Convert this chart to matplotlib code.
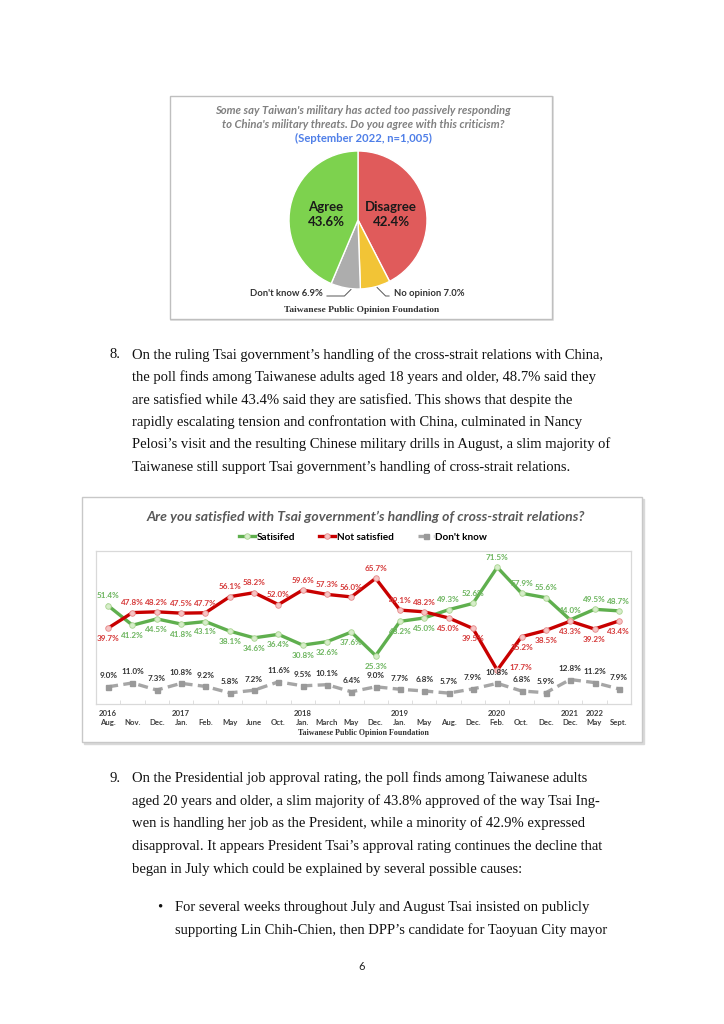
import matplotlib
matplotlib.use("Agg")
import matplotlib.pyplot as plt
from matplotlib.patches import Rectangle
import numpy as np

W, H = 724, 1024
def fx(x): return x / W
def fy(y): return 1 - y / H

# ---------------- data ----------------
pie_labels = ["Disagree", "No opinion", "Don't know", "Agree"]
pie_values = [42.4, 7.0, 6.9, 43.6]

months = ["Aug.", "Nov.", "Dec.", "Jan.", "Feb.", "May", "June", "Oct.", "Jan.", "March", "May",
          "Dec.", "Jan.", "May", "Aug.", "Dec.", "Feb.", "Oct.", "Dec.", "Dec.", "May", "Sept."]
years = ["2016", "", "", "2017", "", "", "", "", "2018", "", "", "", "2019", "", "", "",
         "2020", "", "", "2021", "2022", ""]
satisfied = [51.4, 41.2, 44.5, 41.8, 43.1, 38.1, 34.6, 36.4, 30.8, 32.6, 37.6, 25.3,
             43.2, 45.0, 49.3, 52.6, 71.5, 57.9, 55.6, 44.0, 49.5, 48.7]
not_satisfied = [39.7, 47.8, 48.2, 47.5, 47.7, 56.1, 58.2, 52.0, 59.6, 57.3, 56.0, 65.7,
                 49.1, 48.2, 45.0, 39.5, 17.7, 35.2, 38.5, 43.3, 39.2, 43.4]
dont_know = [9.0, 11.0, 7.3, 10.8, 9.2, 5.8, 7.2, 11.6, 9.5, 10.1, 6.4, 9.0,
             7.7, 6.8, 5.7, 7.9, 10.8, 6.8, 5.9, 12.8, 11.2, 7.9]

# label placement styles (a=above, b=below, r=right)
sat_pos = ["a", "b", "b", "b", "b", "b", "b", "b", "b", "b", "b", "b",
           "b", "b", "a", "a", "a", "a", "a", "a", "a", "a"]
not_pos = ["b", "a", "a", "a", "a", "a", "a", "a", "a", "a", "a", "a",
           "a", "a", "b", "b", "r", "b", "b", "b", "b", "b"]

SANS = ["Lato", "DejaVu Sans"]
SERIF = ["Liberation Serif", "DejaVu Serif"]

fig = plt.figure(figsize=(W / 100, H / 100), dpi=100)
fig.patch.set_facecolor("white")

# ---------------- pie box ----------------
fig.add_artist(Rectangle((fx(171), fy(320)), (553 - 171) / W, (320 - 97) / H,
                         transform=fig.transFigure, facecolor="none", edgecolor="#DDDDDD",
                         lw=1.2, zorder=-10))
fig.add_artist(Rectangle((fx(170), fy(319)), (552 - 170) / W, (319 - 96) / H,
                         transform=fig.transFigure, facecolor="white", edgecolor="#BFBFBF",
                         lw=1, zorder=-9))

ttl_col = "#808080"
fig.text(fx(363), fy(110), "Some say Taiwan's military has acted too passively responding",
         ha="center", va="center", fontsize=8.1, fontweight="bold", style="italic",
         color=ttl_col, family=SANS)
fig.text(fx(363), fy(124), "to China's military threats. Do you agree with this criticism?",
         ha="center", va="center", fontsize=8.1, fontweight="bold", style="italic",
         color=ttl_col, family=SANS)
fig.text(fx(363), fy(138), "(September 2022, n=1,005)", ha="center", va="center",
         fontsize=8.1, fontweight="bold", color="#4F7FE8", family=SANS)

cx, cy, r = 358, 220, 69
axp = fig.add_axes([fx(cx - 72), fy(cy + 72), 144 / W, 144 / H])
pie_colors = ["#E05B5B", "#F2C436", "#ADADAD", "#7DD24E"]
wedges, _ = axp.pie(pie_values, colors=pie_colors, startangle=90, counterclock=False,
                    radius=r / 72, wedgeprops=dict(edgecolor="white", linewidth=1.0))
axp.set_xlim(-1, 1)
axp.set_ylim(-1, 1)
axp.set_aspect("equal")
axp.axis("off")

fig.text(fx(326), fy(207), "Agree", ha="center", va="center", fontsize=9.5,
         fontweight="bold", color="#1a1a1a", family=SANS)
fig.text(fx(326), fy(222), "43.6%", ha="center", va="center", fontsize=9.5,
         fontweight="bold", color="#1a1a1a", family=SANS)
fig.text(fx(391), fy(207), "Disagree", ha="center", va="center", fontsize=9.5,
         fontweight="bold", color="#1a1a1a", family=SANS)
fig.text(fx(391), fy(222), "42.4%", ha="center", va="center", fontsize=9.5,
         fontweight="bold", color="#1a1a1a", family=SANS)

def wedge_point(w, frac, frac_r=0.98):
    ang = np.deg2rad(w.theta1 + (w.theta2 - w.theta1) * frac)
    return (w.r * frac_r * np.cos(ang), w.r * frac_r * np.sin(ang))

# leaders
p = wedge_point(wedges[2], 0.75)
axp.annotate("", xy=p, xycoords="data", xytext=(fx(324), fy(296)), textcoords="figure fraction",
             arrowprops=dict(arrowstyle="-", color="#555555", lw=0.7,
                             connectionstyle="angle,angleA=0,angleB=45,rad=0"),
             annotation_clip=False)
fig.text(fx(323), fy(293), "Don't know 6.9%", ha="right", va="center", fontsize=6.8,
         fontweight="bold", color="#333333", family=SANS)
p = wedge_point(wedges[1], 0.5)
axp.annotate("", xy=p, xycoords="data", xytext=(fx(392), fy(296)), textcoords="figure fraction",
             arrowprops=dict(arrowstyle="-", color="#555555", lw=0.7,
                             connectionstyle="angle,angleA=0,angleB=-45,rad=0"),
             annotation_clip=False)
fig.text(fx(394), fy(294), "No opinion 7.0%", ha="left", va="center", fontsize=6.8,
         fontweight="bold", color="#333333", family=SANS)
fig.text(fx(362), fy(310), "Taiwanese Public Opinion Foundation", ha="center", va="center",
         fontsize=6.8, fontweight="bold", color="#333333", family=SERIF)

# ---------------- paragraph 8 ----------------
TXT = dict(fontsize=10.5, family=SERIF, color="#111111", va="center", ha="left")
fig.text(fx(110), fy(355), "8.", **TXT)
para8 = ["On the ruling Tsai government\u2019s handling of the cross-strait relations with China,",
         "the poll finds among Taiwanese adults aged 18 years and older, 48.7% said they",
         "are satisfied while 43.4% said they are satisfied. This shows that despite the",
         "rapidly escalating tension and confrontation with China, culminated in Nancy",
         "Pelosi\u2019s visit and the resulting Chinese military drills in August, a slim majority of",
         "Taiwanese still support Tsai government\u2019s handling of cross-strait relations."]
for i, line in enumerate(para8):
    fig.text(fx(132), fy(355 + i * 22.4), line, **TXT)

# ---------------- line chart box ----------------
fig.add_artist(Rectangle((fx(84), fy(744)), (644 - 84) / W, (744 - 499) / H,
                         transform=fig.transFigure, facecolor="#D9D9D9", edgecolor="#D9D9D9",
                         lw=1, zorder=-10))
fig.add_artist(Rectangle((fx(82), fy(742)), (642 - 82) / W, (742 - 497) / H,
                         transform=fig.transFigure, facecolor="white", edgecolor="#C8C8C8",
                         lw=1, zorder=-9))

fig.text(fx(366), fy(517), "Are you satisfied with Tsai government\u2019s handling of cross-strait relations?",
         ha="center", va="center", fontsize=10.1, fontweight="bold", style="italic",
         color="#595959", family=SANS)

ax = fig.add_axes([fx(96), fy(704), (631 - 96) / W, (704 - 551) / H])
ax.patch.set_alpha(0)
x = np.arange(len(months))
green, red, grey = "#5FAF4E", "#C80000", "#A6A6A6"
l1, = ax.plot(x, satisfied, color=green, lw=2.4, marker="o", ms=4,
              mfc="#D6EDC9", mec="#A8D48F", mew=0.6, label="Satisifed", zorder=3)
l2, = ax.plot(x, not_satisfied, color=red, lw=2.4, marker="o", ms=4,
              mfc="#F6C4C4", mec="#E58888", mew=0.6, label="Not satisfied", zorder=3)
l3, = ax.plot(x, dont_know, color=grey, lw=2.4, ls=(0, (3, 1.6)), marker="s", ms=3.6,
              mfc="#999999", mec="#999999", label="Don't know", zorder=3)
ax.set_xlim(-0.5, len(months) - 0.5)
ax.set_ylim(0, 80)
ax.set_yticks([])
for s in ax.spines.values():
    s.set_color("#D9D9D9")
    s.set_linewidth(0.9)

LBL = dict(fontsize=5.9, fontweight="bold", family=SANS, ha="center", va="center")
off = {"a": (0, 7), "b": (0, -7.5), "r": (17, 2)}
for i, (v, pz) in enumerate(zip(satisfied, sat_pos)):
    ax.annotate(f"{v:.1f}%", (x[i], v), xytext=off[pz], textcoords="offset points",
                color="#6DB55F", **LBL)
for i, (v, pz) in enumerate(zip(not_satisfied, not_pos)):
    ax.annotate(f"{v:.1f}%", (x[i], v), xytext=off[pz], textcoords="offset points",
                color="#D63B3B", **LBL)
for i, v in enumerate(dont_know):
    ax.annotate(f"{v:.1f}%", (x[i], v), xytext=(0, 8), textcoords="offset points",
                color="#333333", **LBL)

ax.set_xticks(x)
ax.set_xticklabels([f"{y}\n{m}" for y, m in zip(years, months)], fontsize=5.6,
                   fontweight="bold", family=SANS, color="#404040", linespacing=1.45)
ax.tick_params(axis="x", which="major", length=0, pad=4)
ax.set_xticks(np.arange(0.5, len(months) - 1, 1), minor=True)
ax.tick_params(axis="x", which="minor", length=3, color="#D9D9D9", direction="in")

fig.legend(handles=[l1, l2, l3], loc="center", bbox_to_anchor=(fx(363), fy(537)), ncol=3,
           frameon=False, prop=dict(family=SANS, weight="bold", size=7.2),
           handlelength=1.6, handletextpad=0.15, columnspacing=2.4)

fig.text(fx(363), fy(733), "Taiwanese Public Opinion Foundation", ha="center", va="center",
         fontsize=5.8, fontweight="bold", color="#333333", family=SERIF)

# ---------------- paragraph 9 ----------------
fig.text(fx(110), fy(778), "9.", **TXT)
para9 = ["On the Presidential job approval rating, the poll finds among Taiwanese adults",
         "aged 20 years and older, a slim majority of 43.8% approved of the way Tsai Ing-",
         "wen is handling her job as the President, while a minority of 42.9% expressed",
         "disapproval. It appears President Tsai\u2019s approval rating continues the decline that",
         "began in July which could be explained by several possible causes:"]
for i, line in enumerate(para9):
    fig.text(fx(132), fy(778 + i * 22.8), line, **TXT)

fig.text(fx(157), fy(907), "\u2022", **TXT)
bullet = ["For several weeks throughout July and August Tsai insisted on publicly",
          "supporting Lin Chih-Chien, then DPP\u2019s candidate for Taoyuan City mayor"]
for i, line in enumerate(bullet):
    fig.text(fx(175), fy(907 + i * 23), line, **TXT)

fig.text(fx(362), fy(967), "6", ha="center", va="center", fontsize=8, family=SANS, color="#222222")

fig.savefig("out.png", dpi=100)
